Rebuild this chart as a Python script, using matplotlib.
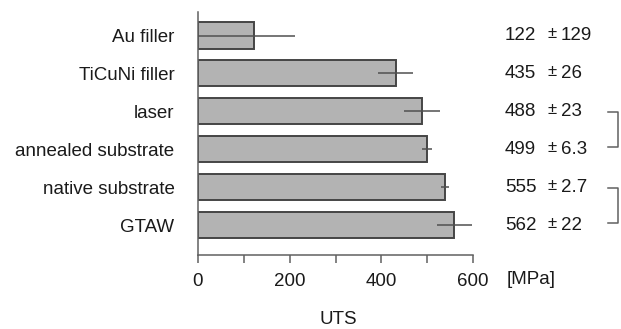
import matplotlib
matplotlib.use("Agg")
import matplotlib.pyplot as plt
from matplotlib.transforms import blended_transform_factory

categories = ["Au filler", "TiCuNi filler", "laser", "annealed substrate",
              "native substrate", "GTAW"]
bar_values = [123, 431, 489, 499, 539, 559]
err_low = [123, 38, 39, 11, 9, 38]
err_high = [88, 38, 39, 11, 9, 38]
label_means = ["122", "435", "488", "499", "555", "562"]
label_sds = ["129", "26", "23", "6.3", "2.7", "22"]
x_ticks = [0, 200, 400, 600]
x_minor = [100, 300, 500]
brackets = [(2, 3), (4, 5)]

W, H = 621, 329
FS = 13.5
TXT = "#1a1a1a"
fig = plt.figure(figsize=(W / 100, H / 100), dpi=100)
plt.rcParams['font.family'] = ['Liberation Sans', 'DejaVu Sans']
ax = fig.add_axes([198 / W, 1 - 255 / H, 275 / W, 243 / H])

ypos = list(range(len(categories)))
ax.barh(ypos, bar_values, height=0.69, color="#b3b3b3", edgecolor="#454545",
        linewidth=1.4, zorder=2)
ax.errorbar(bar_values, ypos, xerr=[err_low, err_high], fmt="none",
            ecolor="#505050", elinewidth=1.1, capsize=0, zorder=3)

ax.set_xlim(0, 600)
ax.set_ylim(5.79, -0.62)
ax.spines['top'].set_visible(False)
ax.spines['right'].set_visible(False)
for s in ('left', 'bottom'):
    ax.spines[s].set_color("#606060")
    ax.spines[s].set_linewidth(1.1)
ax.set_xticks(x_ticks)
ax.set_xticks(x_minor, minor=True)
ax.tick_params(axis='x', which='both', length=6, width=1.1, color="#606060",
               direction='out', labelsize=FS, pad=7, labelcolor=TXT)
ax.set_yticks(ypos)
ax.set_yticklabels(categories)
ax.tick_params(axis='y', length=0, pad=17, labelsize=FS, labelcolor=TXT)

tr = blended_transform_factory(fig.transFigure, ax.transData)
for i, (m, s) in enumerate(zip(label_means, label_sds)):
    ax.text(505 / W, i, m, transform=tr, ha='left', va='center', fontsize=FS,
            color=TXT)
    ax.text(552 / W, i - 0.04, "±", transform=tr, ha='center', va='center',
            fontsize=12, color=TXT)
    ax.text(561 / W, i, s, transform=tr, ha='left', va='center', fontsize=FS,
            color=TXT)

for a, b in brackets:
    y0, y1 = a + 0.03, b - 0.05
    ax.plot([608 / W, 618 / W, 618 / W, 608 / W], [y0, y0, y1, y1],
            transform=tr, color="#606060", lw=1.1, clip_on=False)

fig.text(507 / W, 1 - 280 / H, "[MPa]", ha='left', va='center', fontsize=FS,
         color=TXT)
fig.text(338 / W, 1 - 320 / H, "UTS", ha='center', va='center', fontsize=FS,
         color=TXT)

fig.savefig("out.png", dpi=100)
